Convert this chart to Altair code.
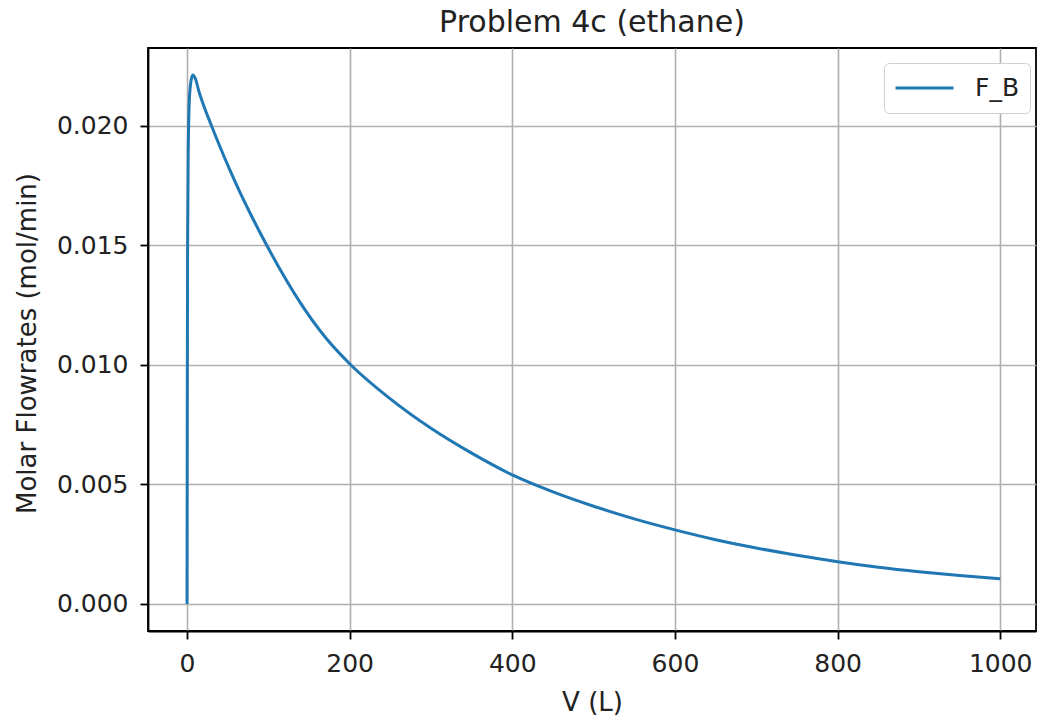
import altair as alt
import pandas as pd

# Values
volume_L = [0, 0.3, 0.7, 1.5, 3, 5, 7, 10, 15, 20, 29, 40, 53, 65, 77, 97, 120, 139,
            170, 200, 250, 300, 350, 400, 450, 500, 550, 600, 650, 700, 750, 800,
            850, 900, 950, 1000]
flow_FB = [0.0, 0.008, 0.015, 0.019, 0.0212, 0.0219, 0.02213, 0.0220, 0.0214, 0.0209,
           0.0201, 0.01917, 0.01813, 0.01723, 0.01639, 0.01507, 0.01367, 0.01262,
           0.01116, 0.01005, 0.00858, 0.00735, 0.00631, 0.0054, 0.00469, 0.00409,
           0.00356, 0.0031, 0.00269, 0.00234, 0.00204, 0.00177, 0.00154, 0.00135,
           0.00119, 0.00105]
series_name = ["F_B"] * len(volume_L)

x_ticks = [0, 200, 400, 600, 800, 1000]
y_ticks = [0.0, 0.005, 0.010, 0.015, 0.020]

df = pd.DataFrame({"V": volume_L, "F": flow_FB, "series": series_name})

FONT = "DejaVu Sans"
W, H = 888, 583

line = alt.Chart(df).mark_line(strokeWidth=3, clip=True, interpolate="monotone").encode(
    x=alt.X(
        "V:Q",
        scale=alt.Scale(domain=[-48, 1044], nice=False, zero=False),
        axis=alt.Axis(
            values=x_ticks, format="d", title="V (L)",
            titleX=W / 2, titleY=79, titleBaseline="alphabetic", titleAlign="center",
        ),
    ),
    y=alt.Y(
        "F:Q",
        scale=alt.Scale(domain=[-0.00113, 0.02326], nice=False, zero=False),
        axis=alt.Axis(
            values=y_ticks, format=".3f", title="Molar Flowrates (mol/min)",
            titleX=-113, titleY=295, titleBaseline="alphabetic", titleAlign="center",
            titleAngle=270,
        ),
    ),
    color=alt.Color(
        "series:N",
        scale=alt.Scale(domain=["F_B"], range=["#1f77b4"]),
        legend=alt.Legend(
            title=None, orient="none", legendX=736, legendY=15,
            symbolType="stroke", symbolSize=3364, symbolStrokeWidth=3,
            labelFontSize=25, labelFont=FONT, labelColor="#222222",
            labelOffset=20, padding=10, clipHeight=30,
            strokeColor="#d0d0d0", cornerRadius=5, fillColor="white",
        ),
    ),
)

chart = line.properties(
    width=W,
    height=H,
    title=alt.TitleParams(
        "Problem 4c (ethane)", fontSize=30, font=FONT, fontWeight="normal",
        anchor="middle", offset=10, dy=24, baseline="alphabetic", color="#222222",
    ),
    autosize=alt.AutoSizeParams(type="none"),
    padding={"left": 148, "top": 48, "right": 1, "bottom": 86},
).configure(
    background="white",
).configure_axis(
    labelFont=FONT, titleFont=FONT, labelFontSize=25, titleFontSize=26,
    titleFontWeight="normal", labelColor="#222222", titleColor="#222222",
    domainColor="black", domainWidth=1.8, tickColor="black", tickWidth=1.8,
    tickSize=8, labelPadding=12, grid=True, gridColor="#b0b0b0", gridWidth=1.6,
).configure_view(
    stroke="black", strokeWidth=1.8,
)

chart.save("out.html", embed_options={"renderer": "svg", "actions": False})
